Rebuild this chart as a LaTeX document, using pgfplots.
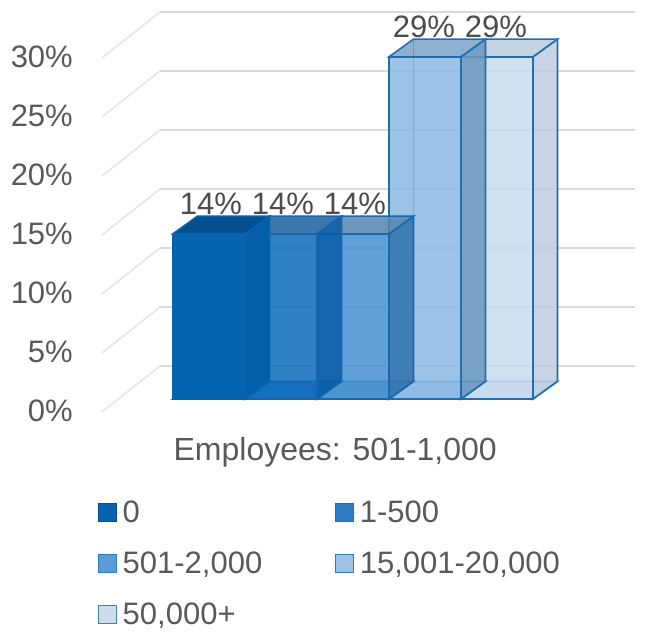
\documentclass[border=0pt]{standalone}
\usepackage{fontspec}
\setmainfont{Liberation Sans}
\usepackage{pgfplots}
\pgfplotsset{compat=1.18}

\definecolor{txt}{HTML}{595959}
\definecolor{gridc}{HTML}{D9D9D9}
\definecolor{gridd}{HTML}{E6E6E6}
\newcommand{\hexc}[1]{\definecolor{#1}{HTML}{#1}}
\hexc{C7DBEE}\hexc{C7D6E8}\hexc{BECDE0}\hexc{BBCADD}\hexc{1F6FB0}
\hexc{8BB9E1}\hexc{9CC0E2}\hexc{6C98BF}\hexc{7BA2C8}
\hexc{4390D1}\hexc{5F9FD6}\hexc{2F73AD}\hexc{5685B0}\hexc{1A69AE}
\hexc{0B6ABB}\hexc{2E7CC4}\hexc{085AA7}\hexc{195E9F}\hexc{1565AE}
\hexc{0563B0}\hexc{055FA8}\hexc{04508F}
\hexc{5B9BD5}\hexc{9CC3E5}\hexc{CCDDEE}\hexc{3F7FB5}

% one oblique bar: left edge, value, then front, bottom, side, top and edge colours, opacity
\newcommand{\cube}[8]{%
  \pgfmathsetmacro{\xa}{#1}%
  \pgfmathsetmacro{\xb}{#1+72}%
  \pgfmathsetmacro{\xc}{#1+24.5}%
  \pgfmathsetmacro{\xd}{#1+96.5}%
  \pgfmathsetmacro{\yf}{1.10}%
  \pgfmathsetmacro{\yb}{2.60}%
  \pgfmathsetmacro{\tf}{1.10+#2}%
  \pgfmathsetmacro{\tb}{2.60+#2}%
  \addplot[forget plot,draw=#7,line width=1.6pt,fill=#4,fill opacity=#8] coordinates {(\xa,\yf) (\xb,\yf) (\xd,\yb) (\xc,\yb)} --cycle;
  \addplot[forget plot,draw=#7,line width=1.6pt] coordinates {(\xc,\yb) (\xc,\tb)};
  \addplot[forget plot,draw=#7,line width=1.6pt,fill=#3,fill opacity=#8] coordinates {(\xa,\yf) (\xb,\yf) (\xb,\tf) (\xa,\tf)} --cycle;
  \addplot[forget plot,draw=#7,line width=1.6pt,fill=#5,fill opacity=#8] coordinates {(\xb,\yf) (\xd,\yb) (\xd,\tb) (\xb,\tf)} --cycle;
  \addplot[forget plot,draw=#7,line width=1.6pt,fill=#6,fill opacity=#8] coordinates {(\xa,\tf) (\xb,\tf) (\xd,\tb) (\xc,\tb)} --cycle;
}

% value label above a bar: centre of the label, value
\newcommand{\barlabel}[2]{%
  \pgfmathsetmacro{\ly}{#2+3.6}%
  \edef\labelcmd{\noexpand\node[font=\noexpand\fontsize{31}{36}\noexpand\selectfont,text=txt!85!black] at (axis cs:#1,\ly) {#2\noexpand\%};}%
  \labelcmd
}

% horizontal rule of the back wall with its diagonal on the side wall
\newcommand{\gridrule}[1]{%
  \pgfmathsetmacro{\ga}{#1+3.9}%
  \addplot[forget plot,draw=gridd,line width=1.6pt] coordinates {(102,#1) (160,\ga)};
  \addplot[forget plot,draw=gridc,line width=1.6pt] coordinates {(160,\ga) (635,\ga)};
}

\begin{document}
\begin{tikzpicture}[x=1pt,y=1pt]
\useasboundingbox (0,0) rectangle (660,631);
\begin{axis}[
  at={(100pt,219pt)}, anchor=south west,
  scale only axis, width=560pt, height=354pt,
  xmin=100, xmax=660, ymin=0, ymax=30,
  clip=false,
  axis line style={draw=none},
  tick style={draw=none},
  xtick=\empty,
  ytick={0,5,10,15,20,25,30},
  yticklabels={0\%,5\%,10\%,15\%,20\%,25\%,30\%},
  yticklabel style={font=\fontsize{31}{36}\selectfont,text=txt,anchor=east,inner sep=0pt,xshift=-27pt,yshift=1pt},
  xlabel={Employees: 501-1,000},
  every axis x label/.style={at={(axis description cs:0.42,-0.113)},anchor=center,font=\fontsize{32}{36}\selectfont,text=txt},
  legend columns=2,
  legend cell align=left,
  legend image code/.code={\draw[#1] (0pt,-9pt) rectangle (18pt,9pt); \path[draw=none] (0pt,0pt) -- (22pt,0pt);},
  legend style={
    at={(axis cs:98,-7.35)},anchor=north west,draw=none,fill=none,
    font=\fontsize{31}{36}\selectfont,text=txt,
    row sep=24pt,inner sep=0pt,
    /tikz/every even column/.append style={column sep=71pt},
  },
]
  \gridrule{0}\gridrule{5}\gridrule{10}\gridrule{15}\gridrule{20}\gridrule{25}\gridrule{30}

  % drawn from the last series to the first so that each side face lies over its neighbour
  \cube{461}{29}{C7DBEE}{C7D6E8}{BECDE0}{BBCADD}{1F6FB0}{0.85}
  \cube{389}{29}{8BB9E1}{9CC0E2}{6C98BF}{7BA2C8}{1F6FB0}{0.85}
  \cube{317}{14}{4390D1}{5F9FD6}{2F73AD}{5685B0}{1A69AE}{0.85}
  \cube{245}{14}{0B6ABB}{2E7CC4}{085AA7}{195E9F}{1565AE}{0.85}
  \cube{173}{14}{0563B0}{0563B0}{055FA8}{04508F}{0563B0}{1}

  % value labels
  \barlabel{211}{14}
  \barlabel{283}{14}
  \barlabel{355}{14}
  \barlabel{424}{29}
  \barlabel{496}{29}

  \addlegendimage{fill=0563B0,draw=04508F,line width=1pt}
  \addlegendentry{0}
  \addlegendimage{fill=2E7CC4,draw=1F6FB0,line width=1pt}
  \addlegendentry{1-500}
  \addlegendimage{fill=5B9BD5,draw=2E7CC4,line width=1pt}
  \addlegendentry{501-2,000}
  \addlegendimage{fill=9CC3E5,draw=2E7CC4,line width=1pt}
  \addlegendentry{15,001-20,000}
  \addlegendimage{fill=CCDDEE,draw=3F7FB5,line width=1pt}
  \addlegendentry{50,000+}
\end{axis}
\end{tikzpicture}
\end{document}
